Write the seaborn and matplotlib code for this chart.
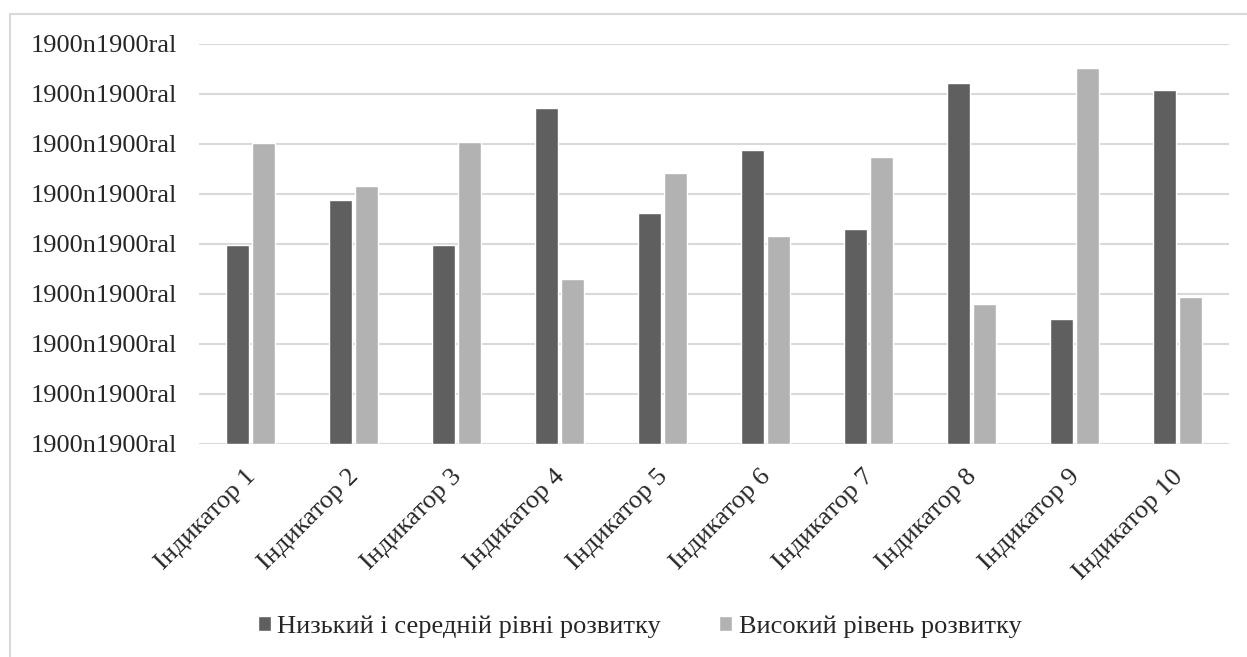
import pandas as pd
import seaborn as sns
import matplotlib.pyplot as plt
from matplotlib.patches import Rectangle
from matplotlib.transforms import ScaledTranslation

# chart values (axis has 8 equal steps)
categories = [f"Індикатор {i}" for i in range(1, 11)]
low_mid = [3.97, 4.88, 3.98, 6.72, 4.62, 5.88, 4.29, 7.22, 2.49, 7.07]
high = [6.02, 5.16, 6.04, 3.30, 5.42, 4.16, 5.73, 2.79, 7.51, 2.93]
series_names = ["Низький і середній рівні розвитку", "Високий рівень розвитку"]
colors = ["#5f5f5f", "#b2b2b2"]
ytick_label = "1900n1900ral"

df = pd.DataFrame({
    "cat": categories * 2,
    "val": low_mid + high,
    "series": [series_names[0]] * 10 + [series_names[1]] * 10,
})

sns.set_style("white")
plt.rcParams["font.family"] = ["Liberation Serif", "DejaVu Serif"]

fig = plt.figure(figsize=(12.47, 6.57), dpi=100)
ax = fig.add_axes([0.1596, 0.3247, 0.826, 0.6088])

sns.barplot(data=df, x="cat", y="val", hue="series", palette=colors,
            width=0.5, gap=0.12, ax=ax, legend=True, saturation=1)

ax.set_ylim(0, 8)
ax.set_xlim(-0.5, 9.5)
ax.set_yticks(range(9))
ax.set_yticklabels([ytick_label] * 9, fontsize=19)
ax.set_xlabel("")
ax.set_ylabel("")
ax.yaxis.grid(True, color="#d9d9d9", linewidth=1.5)
ax.set_axisbelow(True)
for s in ax.spines.values():
    s.set_visible(False)
ax.tick_params(axis="y", length=0, pad=16)
ax.tick_params(axis="x", length=0, pad=8)

# rotated category labels, nudged to sit like the original
shift = ScaledTranslation(-6 / 100, -11 / 100, fig.dpi_scale_trans)
for lab in ax.get_xticklabels():
    lab.set_rotation(45)
    lab.set_ha("right")
    lab.set_rotation_mode("anchor")
    lab.set_fontsize(19)
    lab.set_transform(lab.get_transform() + shift)

# legend below the plot
handles, labels = ax.get_legend_handles_labels()
ax.get_legend().remove()
fig.legend(handles, labels, loc="center", bbox_to_anchor=(0.513, 0.0457), ncol=2,
           frameon=False, fontsize=19, handlelength=0.5, handleheight=0.5,
           handletextpad=0.25, columnspacing=2.2)

# light frame around the chart area
fig.patches.append(Rectangle((10 / 1247, -0.1), 1.2, (657 - 14) / 657 + 0.1,
                             transform=fig.transFigure, fill=False,
                             edgecolor="#d9d9d9", linewidth=1.5))

fig.savefig("out.png", dpi=100)
